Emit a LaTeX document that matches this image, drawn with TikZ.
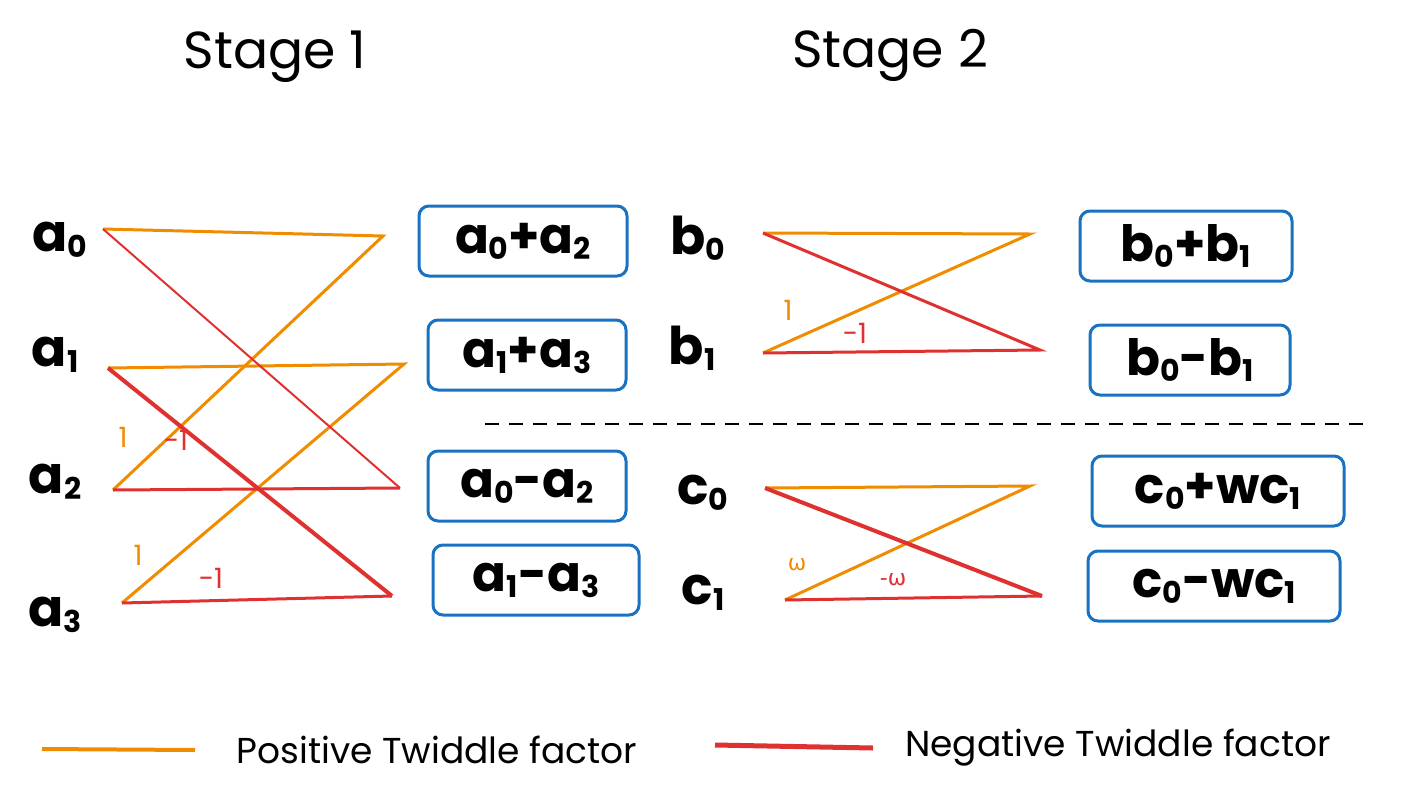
\documentclass[tikz,border=0pt]{standalone}
\usepackage{fontspec}
\setmainfont{Poppins}
\newfontfamily\dvs{DejaVu Sans}
\definecolor{ora}{HTML}{F08C00}
\definecolor{rd}{HTML}{E03131}
\definecolor{bl}{HTML}{1971C2}
\newcommand{\sub}[1]{\raisebox{-0.12em}{\fontsize{30}{32}\selectfont #1}}
\begin{document}
\begin{tikzpicture}[x=1pt,y=-1pt,
  posline/.style={ora,line width=3pt},
  negline/.style={rd,line width=3pt},
  lab/.style={font=\fontsize{52}{58}\selectfont\bfseries,inner sep=0pt},
  box/.style={draw=bl,line width=3pt,rounded corners=10pt,minimum height=70pt,inner sep=0pt,font=\fontsize{50}{56}\selectfont\bfseries},
  num/.style={font=\fontsize{28}{30}\selectfont,inner sep=0pt},
  ttl/.style={font=\fontsize{52}{60}\selectfont},
  leg/.style={font=\fontsize{36}{40}\selectfont}]
\useasboundingbox (0,0) rectangle (1402,798);
\node[ttl] (s1) at (275,57) {Stage 1};
\node[ttl] (s2) at (890,55) {Stage 2};
% stage 1 labels
\node[lab] (a0) at (60,240) {a\sub{0}};
\node[lab] (a1) at (55,355) {a\sub{1}};
\node[lab] (a2) at (55,482) {a\sub{2}};
\node[lab] (a3) at (55,615) {a\sub{3}};
\coordinate (p0) at (103,229); \coordinate (q0) at (383,236);
\coordinate (p1) at (108,368); \coordinate (q1) at (404,364);
\coordinate (p2) at (113,490); \coordinate (q2) at (400,488);
\coordinate (p3) at (122,603); \coordinate (q3) at (392,596);
\draw[posline] (p0) -- (q0) -- (p2);
\draw[posline] (p1) -- (q1) -- (p3);
\draw[negline,line width=2pt] (p0) -- (q2);
\draw[negline,line width=4pt] (p1) -- (q3);
\draw[negline] (p2) -- (q2);
\draw[negline] (p3) -- (q3);
\node[num,ora] (n1) at (123,437) {1};
\node[num,rd] (n2) at (176,440) {-1};
\node[num,ora] (n3) at (138,555) {1};
\node[num,rd] (n4) at (211,578) {-1};
\node[box,minimum width=208pt] (A) at (523,241) {a\sub{0}+a\sub{2}};
\node[box,minimum width=198pt] (B) at (527,355) {a\sub{1}+a\sub{3}};
\node[box,minimum width=198pt] (C) at (527,486) {a\sub{0}-a\sub{2}};
\node[box,minimum width=206pt] (D) at (536,580) {a\sub{1}-a\sub{3}};
% stage 2
\node[lab] (b0) at (698,238) {b\sub{0}};
\node[lab] (b1) at (692,348) {b\sub{1}};
\node[lab] (c0) at (703,493) {c\sub{0}};
\node[lab] (c1) at (703,593) {c\sub{1}};
\coordinate (r0) at (763,233); \coordinate (t0) at (1030,234);
\coordinate (r1) at (763,353); \coordinate (t1) at (1040,350);
\draw[posline] (r0) -- (t0) -- (r1);
\draw[negline] (r0) -- (t1) -- (r1);
\node[num,ora] (m1) at (788,310) {1};
\node[num,rd] (m2) at (855,333) {-1};
\coordinate (u0) at (765,488); \coordinate (v0) at (1030,486);
\coordinate (u1) at (785,600); \coordinate (v1) at (1042,596);
\draw[posline] (u0) -- (v0) -- (u1);
\draw[negline,line width=4pt] (u0) -- (v1);
\draw[negline] (u1) -- (v1);
\node[num,ora,font=\dvs\fontsize{22}{24}\selectfont] (m3) at (797,565) {ω};
\node[num,rd,font=\dvs\fontsize{22}{24}\selectfont] (m4) at (893,580) {-ω};
\node[box,minimum width=212pt] (E) at (1186,246) {b\sub{0}+b\sub{1}};
\node[box,minimum width=200pt] (F) at (1190,360) {b\sub{0}-b\sub{1}};
\node[box,minimum width=252pt] (G) at (1218,491) {c\sub{0}+wc\sub{1}};
\node[box,minimum width=252pt] (H) at (1214,586) {c\sub{0}-wc\sub{1}};
\coordinate (d0) at (485,424); \coordinate (d1) at (1370,424);
\draw[line width=2.5pt,dash pattern=on 14pt off 10pt] (d0) -- (d1);
% legend
\coordinate (l0) at (42,749); \coordinate (l1) at (195,750);
\draw[posline,line width=4pt] (l0) -- (l1);
\node[leg] (lt1) at (437,750) {Positive Twiddle factor};
\coordinate (l2) at (715,745); \coordinate (l3) at (873,748);
\draw[negline,line width=5pt] (l2) -- (l3);
\node[leg] (lt2) at (1118,748) {Negative Twiddle factor};
\end{tikzpicture}
\end{document}
